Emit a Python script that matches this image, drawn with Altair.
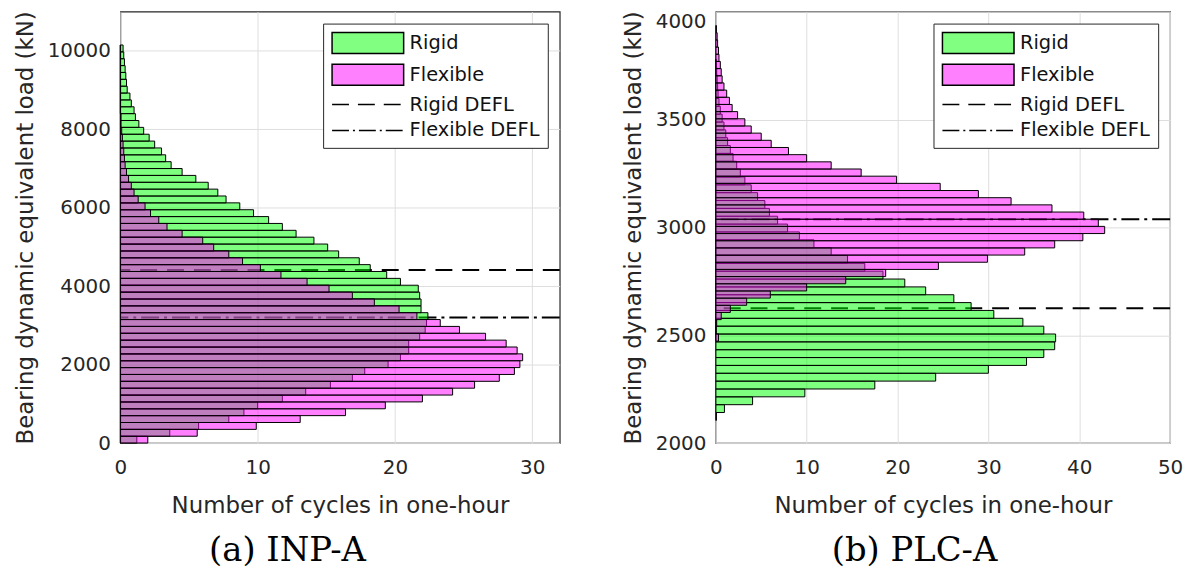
import altair as alt
import pandas as pd

SERIES = ["Rigid", "Flexible", "Rigid DEFL", "Flexible DEFL"]
X_TITLE = "Number of cycles in one-hour"
Y_TITLE = "Bearing dynamic equivalent load (kN)"

# ---------------- (a) INP-A : counts per bin, bottom -> top ----------------
A_RIGID_START = 0.0
A_RIGID_WIDTH = 175.0
A_RIGID = [1.2, 3.6, 5.7, 7.9, 9.0, 10.0, 11.8, 13.5, 15.3, 16.9, 17.8, 19.5, 20.4,
           21.0, 21.0, 21.8, 22.2, 22.3, 22.4, 21.9, 21.9, 21.8, 21.7, 20.4, 19.4,
           18.2, 17.4, 15.9, 15.1, 14.1, 12.8, 11.8, 10.8, 9.7, 8.7, 7.7, 7.1, 6.4,
           5.5, 4.5, 3.7, 3.3, 3.0, 2.5, 2.1, 1.7, 1.35, 1.1, 1.0, 0.8, 0.7, 0.5,
           0.45, 0.4, 0.35, 0.3, 0.25, 0.2]
A_FLEX_START = 0.0
A_FLEX_WIDTH = 175.0
A_FLEX = [2.0, 5.6, 9.9, 13.1, 16.4, 19.3, 22.0, 24.2, 25.8, 27.6, 28.7, 29.1, 29.3,
          28.9, 28.1, 26.6, 24.7, 23.3, 21.6, 20.3, 18.5, 16.9, 15.2, 13.6, 11.7,
          10.2, 8.9, 7.9, 6.8, 6.0, 4.5, 3.4, 2.8, 2.2, 1.8, 1.3, 1.0, 0.8, 0.6,
          0.45, 0.35, 0.3, 0.25, 0.2, 0.15, 0.1, 0.05, 0.05, 0, 0, 0, 0, 0, 0, 0,
          0, 0, 0]
A_RIGID_DEFL = 4415
A_FLEX_DEFL = 3203
A_X_DOMAIN = [0, 32]
A_X_TICKS = [0, 10, 20, 30]
A_Y_DOMAIN = [0, 11000]
A_Y_TICKS = [0, 2000, 4000, 6000, 8000, 10000]

# ---------------- (b) PLC-A : counts per bin, bottom -> top ----------------
B_RIGID_START = 2105.3
B_RIGID_WIDTH = 36.4
B_RIGID = [0.07, 0.95, 4.05, 9.8, 17.5, 24.2, 30.0, 34.2, 36.1, 37.3, 37.4, 36.1,
           33.8, 30.6, 28.1, 26.2, 23.1, 20.8, 18.4, 16.4, 14.5, 12.7, 10.8, 9.2,
           7.9, 6.8, 5.9, 5.4, 4.6, 3.9, 3.2, 2.7, 2.3, 1.9, 1.6, 1.3, 1.1, 0.9,
           0.7, 0.5, 0.35, 0.25, 0.2, 0.15, 0.1, 0.05]
B_FLEX_START = 2472.6
B_FLEX_WIDTH = 33.25
B_FLEX = [0.3, 0.05, 0.1, 0.6, 1.6, 3.4, 6.0, 10.0, 14.3, 18.7, 24.5, 29.9, 34.0,
          37.3, 40.4, 42.8, 42.1, 40.5, 37.0, 32.5, 28.9, 24.7, 19.9, 16.0, 12.7,
          10.0, 8.0, 6.1, 5.0, 3.9, 3.2, 2.4, 1.8, 1.5, 1.2, 0.9, 0.7, 0.6, 0.5,
          0.35, 0.3, 0.2, 0.15, 0.07]
B_RIGID_DEFL = 2625
B_FLEX_DEFL = 3038
B_X_DOMAIN = [0, 50]
B_X_TICKS = [0, 10, 20, 30, 40, 50]
B_Y_DOMAIN = [2000, 4000]
B_Y_TICKS = [2000, 2500, 3000, 3500, 4000]

RECT_PATH = "M-1,-1H5.857V1H-1Z"
LINE_PATH = "M-1,0H5.857"


def bins(start, width, counts, name):
    lo = [start + i * width for i in range(len(counts))]
    return pd.DataFrame({"load": lo, "load_hi": [v + width for v in lo],
                         "count": counts, "series": name})


def panel(rigid, flex, rdefl, fdefl, xdom, xticks, ydom, yticks, caption,
          w, h, ybase, cap_dx):
    xs = alt.Scale(domain=xdom, nice=False, zero=False)
    ys = alt.Scale(domain=ydom, nice=False, zero=False)
    xa = alt.Axis(values=xticks, title=X_TITLE, labelFlush=False)
    ya = alt.Axis(values=yticks, title=Y_TITLE, format="d", labelBaseline=ybase,
                  labelFlush=False, titleLimit=800)
    X = alt.X("count:Q", scale=xs, axis=xa)
    Y = alt.Y("load:Q", scale=ys, axis=ya)

    rule_r = alt.Chart(pd.DataFrame({"load": [rdefl]})).mark_rule(
        color="black", strokeWidth=2, strokeDash=[17, 10]).encode(y=Y)
    rule_f = alt.Chart(pd.DataFrame({"load": [fdefl]})).mark_rule(
        color="black", strokeWidth=2, strokeDash=[18, 5, 3, 5]).encode(y=Y)

    bar_r = alt.Chart(rigid).mark_rect(
        fill="#00FF00", fillOpacity=0.5, stroke="black", strokeWidth=1
    ).encode(y=Y, y2="load_hi:Q", x=X, x2=alt.datum(0))
    bar_f = alt.Chart(flex).mark_rect(
        fill="#FF00FF", fillOpacity=0.5, stroke="black", strokeWidth=1
    ).encode(y=Y, y2="load_hi:Q", x=X, x2=alt.datum(0))

    leg = alt.Legend(title=None, orient="top-right", offset=12, padding=8,
                     strokeColor="#262626", fillColor="white", cornerRadius=0,
                     symbolSize=441, symbolStrokeWidth=1.5,
                     symbolStrokeColor="black", symbolFillColor="white",
                     symbolOpacity=1, labelFont="DejaVu Sans",
                     labelFontSize=19.5, labelColor="#111111", labelOffset=56,
                     rowPadding=5, labelLimit=400)
    leg_df = pd.DataFrame({"series": SERIES, "count": [xdom[0]] * 4,
                           "load": [ydom[0]] * 4})
    legend_layer = alt.Chart(leg_df).transform_filter("false").mark_point(
        filled=True, opacity=1, stroke="black", strokeWidth=1.5
    ).encode(
        x=X, y=Y,
        shape=alt.Shape("series:N", legend=leg, scale=alt.Scale(
            domain=SERIES, range=[RECT_PATH, RECT_PATH, LINE_PATH, LINE_PATH])),
        fill=alt.Fill("series:N", legend=leg, scale=alt.Scale(
            domain=SERIES, range=["#80FF80", "#FF80FF", "transparent", "transparent"])),
        strokeDash=alt.StrokeDash("series:N", legend=leg, scale=alt.Scale(
            domain=SERIES, range=[[1, 0], [1, 0], [17, 9], [17, 4, 2, 4]])),
    )
    return alt.layer(rule_r, rule_f, bar_r, bar_f, legend_layer).properties(
        width=w, height=h,
        title=alt.TitleParams(caption, orient="bottom", anchor="middle",
                              frame="bounds", font="DejaVu Serif", fontSize=34,
                              fontWeight="normal", color="black", offset=17,
                              dx=cap_dx),
    )


left = panel(bins(A_RIGID_START, A_RIGID_WIDTH, A_RIGID, "Rigid"),
             bins(A_FLEX_START, A_FLEX_WIDTH, A_FLEX, "Flexible"),
             A_RIGID_DEFL, A_FLEX_DEFL, A_X_DOMAIN, A_X_TICKS, A_Y_DOMAIN,
             A_Y_TICKS, "(a) INP-A", 442, 434, "middle", 0)
right = panel(bins(B_RIGID_START, B_RIGID_WIDTH, B_RIGID, "Rigid"),
              bins(B_FLEX_START, B_FLEX_WIDTH, B_FLEX, "Flexible"),
              B_RIGID_DEFL, B_FLEX_DEFL, B_X_DOMAIN, B_X_TICKS, B_Y_DOMAIN,
              B_Y_TICKS, "(b) PLC-A", 457, 434,
              {"condition": {"test": "datum.value >= 4000", "value": "top"},
               "value": "middle"}, 12)

chart = alt.hconcat(left, right, spacing=60).resolve_scale(
    fill="independent", shape="independent", strokeDash="independent"
).properties(
    padding={"left": 5, "top": 0, "right": 2, "bottom": 2}
).configure(font="DejaVu Sans").configure_view(
    stroke="#262626", strokeWidth=1.2
).configure_axis(
    grid=True, gridColor="#dedede", gridWidth=1, domain=False, ticks=False,
    labelFont="DejaVu Sans", labelFontSize=20, labelColor="#262626",
    titleFont="DejaVu Sans", titleFontSize=23, titleFontWeight="normal",
    titleColor="#262626"
).configure_axisX(labelPadding=15, titlePadding=17).configure_axisY(
    labelPadding=10, titlePadding=10)

chart.save("out.html", embed_options={"renderer": "svg", "actions": False})
